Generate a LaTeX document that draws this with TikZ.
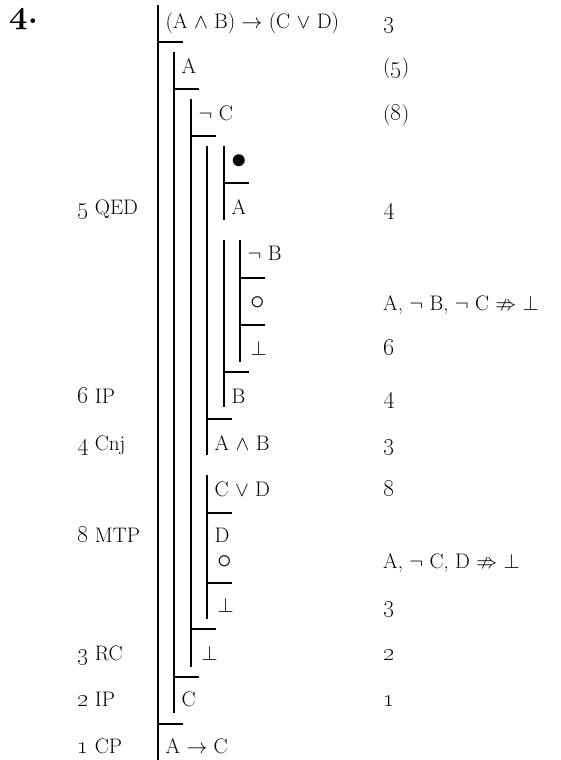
\documentclass[tikz,border=0pt]{standalone}
\usepackage{amssymb}
\usepackage{graphicx}
\usetikzlibrary{positioning}
\newcommand{\osn}[1]{{\fontsize{24.88}{30}\selectfont\oldstylenums{#1}}}
\newcommand{\ring}{\scalebox{1.4}{$\circ$}}
\newcommand{\dotmark}{\scalebox{1.5}{$\bullet$}}
\tikzset{
  fitch/.style={line width=1.9pt,line cap=butt},
  formula/.style={anchor=base west,inner sep=0pt,font=\fontsize{21}{25}\selectfont},
  sym/.style={formula,xshift=3pt},
  rulename/.style={formula},
  lineref/.style={formula},
  % problem number
  heading/.style={anchor=base west,inner sep=0pt,font=\fontsize{24.88}{30}\selectfont},
}
\begin{document}
\begin{tikzpicture}[x=1pt,y=-1pt]
  \useasboundingbox (0,0) rectangle (561,760);
  \node[heading] (num) at (9,23.3) {\scalebox{1.3}{{\usefont{OML}{cmm}{b}{it}4}\bfseries.}};
  \foreach \x/\ya/\yb in {158/5/760, 174/52/713.3, 191/99/666.7, 207/145.7/455,
    207/475/619.3, 224/145.7/220, 224/240/407.3, 240/240/361.7}
    \draw[fitch] (\x,\ya) -- (\x,\yb);
  \foreach \x/\y in {158/42.3, 158/724, 174/89.3, 174/676.7, 191/136, 191/629.3,
    207/419.3, 207/512.7, 207/582.7, 224/183.3, 224/371.7, 240/277.7, 240/325}
    \draw[fitch] (\x,\y) -- ++(25,0);
  \node[formula] (prem) at (165.5,28.5) {(A $\wedge$ B) $\rightarrow$ (C $\vee$ D)};
  \node[lineref] (prem r) at (383,28.5) {\osn{3}};
  \node[formula] (hypA) at (181.5,73.3) {A};
  \node[lineref] (hypA r) at (383,73.3) {(\osn{5})};
  \node[formula] (hypnC) at (198.5,120) {$\neg$ C};
  \node[lineref] (hypnC r) at (383,120) {(\osn{8})};
  \node[formula] (blank) at (231,168) {\dotmark};
  \node[formula] (qedA) at (231.5,214) {A};
  \node[rulename] (qedA l) at (77,214) {\osn{5} QED};
  \node[lineref] (qedA r) at (383,214) {\osn{4}};
  \node[formula] (hypnB) at (247.5,260) {$\neg$ B};
  \node[sym] (openB) at (247.5,309) {\ring};
  \node[lineref] (openB r) at (383,310) {A, $\neg$ B, $\neg$ C $\nRightarrow$ $\bot$};
  \node[sym] (botB) at (247.5,355) {$\bot$};
  \node[lineref] (botB r) at (383,355) {\osn{6}};
  \node[formula] (ipB) at (231.5,403) {B};
  \node[rulename] (ipB l) at (77,403) {\osn{6} IP};
  \node[lineref] (ipB r) at (383,403) {\osn{4}};
  \node[formula] (cnj) at (214.5,450) {A $\wedge$ B};
  \node[rulename] (cnj l) at (77,450) {\osn{4} Cnj};
  \node[lineref] (cnj r) at (383,450) {\osn{3}};
  \node[formula] (disj) at (214.5,496) {C $\vee$ D};
  \node[lineref] (disj r) at (383,496) {\osn{8}};
  \node[formula] (mtpD) at (214.5,542.5) {D};
  \node[rulename] (mtpD l) at (77,542.5) {\osn{8} MTP};
  \node[sym] (openD) at (214.5,568) {\ring};
  \node[lineref] (openD r) at (383,568) {A, $\neg$ C, D $\nRightarrow$ $\bot$};
  \node[sym] (botD) at (214.5,612) {$\bot$};
  \node[lineref] (botD r) at (383,612) {\osn{3}};
  \node[sym] (rcbot) at (198.5,660) {$\bot$};
  \node[rulename] (rcbot l) at (77,660) {\osn{3} RC};
  \node[lineref] (rcbot r) at (383,660) {\osn{2}};
  \node[formula] (ipC) at (181.5,706.5) {C};
  \node[rulename] (ipC l) at (77,706.5) {\osn{2} IP};
  \node[lineref] (ipC r) at (383,706.5) {\osn{1}};
  \node[formula] (concl) at (165.5,753) {A $\rightarrow$ C};
  \node[rulename] (concl l) at (77,753) {\osn{1} CP};
\end{tikzpicture}
\end{document}
